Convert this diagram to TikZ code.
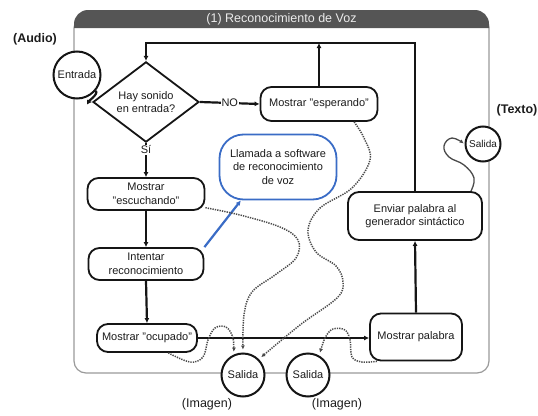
\documentclass[tikz,border=0pt]{standalone}
\usepackage{fontspec}
\setmainfont{Liberation Sans}
\usetikzlibrary{arrows.meta,shapes.geometric}

\definecolor{ink}{HTML}{151515}
\definecolor{txt}{HTML}{1C1C1C}
\definecolor{frameclr}{HTML}{9A9A9A}
\definecolor{hdr}{HTML}{555555}
\definecolor{callblue}{HTML}{3A6CC6}
\definecolor{dotclr}{HTML}{4A4A4A}

\tikzset{
  boxtxt/.style={font=\fontsize{11}{13.5}\selectfont, text=txt, align=center},
  stepbox/.style={boxtxt, draw=ink, line width=1.8pt, fill=white, rounded corners=11pt,
                  inner sep=0pt},
  callbox/.style={boxtxt, draw=callblue, line width=1.8pt, fill=white, rounded corners=24pt,
                  inner sep=0pt},
  decision/.style={boxtxt, draw=ink, line width=1.8pt, fill=white, diamond, inner sep=0pt},
  port/.style={boxtxt, circle, draw=ink, line width=2pt, fill=white, inner sep=0pt},
  flow/.style={draw=ink, line width=2.2pt, -{Latex[length=5pt,width=5pt]}},
  callflow/.style={draw=callblue, line width=2.2pt, -{Latex[length=5pt,width=5pt]}},
  dataflow/.style={draw=dotclr, line width=1.5pt, dash pattern=on 1.3pt off 1.1pt,
                   -{Latex[length=4pt,width=4pt]}, shorten >=3pt},
  textflow/.style={draw=dotclr, line width=1.3pt, -{Latex[length=4pt,width=4pt]}, shorten >=1pt},
  caption/.style={font=\fontsize{12.5}{14}\selectfont, text=txt},
}

\begin{document}
\begin{tikzpicture}[x=1pt, y=-1pt]
  \useasboundingbox (0,0) rectangle (538,415);

  % module frame with its title band
  \draw[frameclr, line width=1.2pt, rounded corners=12pt] (74,16) rectangle (489,373);
  \fill[hdr] (74,28) [rounded corners=14pt] -- (74,10) -- (489,10) [sharp corners] -- (489,28) -- cycle;
  \node[font=\fontsize{12.5}{14}\selectfont, text=white!92!black] (title) at (281.5,19) {(1) Reconocimiento de Voz};

  % steps
  \node[port, minimum size=47pt] (entrada) at (77,75) {Entrada};
  \node[decision, minimum width=106pt, minimum height=77pt] (dia) at (146,102) {Hay sonido\\en entrada?};
  \node[stepbox, minimum width=117pt, minimum height=34pt] (esperando) at (319,104) {Mostrar "esperando"};
  \node[stepbox, minimum width=117pt, minimum height=32pt] (escuchando) at (146,194) {Mostrar\\"escuchando"};
  \node[stepbox, minimum width=115pt, minimum height=32pt] (intentar) at (146,264) {Intentar\\reconocimiento};
  \node[stepbox, minimum width=100pt, minimum height=28pt] (ocupado) at (147,338) {Mostrar "ocupado"};
  \node[stepbox, minimum width=92pt, minimum height=47pt] (palabra) at (416,337) {Mostrar palabra};
  \node[stepbox, minimum width=134pt, minimum height=48pt] (enviar) at (415,216) {Enviar palabra al\\generador sintáctico};
  \node[callbox, minimum width=117pt, minimum height=65pt] (llamada) at (278,167) {Llamada a software\\de reconocimiento\\de voz};

  % outputs
  \node[port, minimum size=35pt, font=\fontsize{10}{12}\selectfont] (salidaT) at (483,144) {Salida};
  \node[port, minimum size=43pt] (salida1) at (243,375) {Salida};
  \node[port, minimum size=43pt] (salida2) at (308,375) {Salida};

  % port captions
  \node[caption, font=\fontsize{12.5}{14}\selectfont\bfseries] (capA) at (35,39) {(Audio)};
  \node[caption, font=\fontsize{12.5}{14}\selectfont\bfseries] (capT) at (517,110) {(Texto)};
  \node[caption] (capI1) at (207,404) {(Imagen)};
  \node[caption] (capI2) at (337,404) {(Imagen)};

  % control flow
  \coordinate (topL) at (146,43);
  \coordinate (join) at (319,43);
  \draw[flow] (entrada.-40) to[out=-45, in=180] (dia.west);
  \draw[flow] (enviar.north) |- (topL) -- (dia.north);
  \draw[flow] (esperando.north) -- (join);
  \draw[flow] (dia.east) -- node[boxtxt, fill=white, inner sep=1pt] (no) {NO} (esperando.west);
  \draw[flow] (dia.south) -- node[boxtxt, fill=white, inner sep=1pt, pos=0.2] (si) {Sí} (escuchando.north);
  \draw[flow] (escuchando.south) -- (intentar.north);
  \draw[flow] (intentar.south) -- (ocupado.north);
  \draw[flow] (ocupado.east) -- (ocupado.east -| palabra.west);
  \draw[flow] (palabra.north) -- (enviar.south);
  \draw[callflow] (intentar.north east) -- (llamada.-138);

  % text output
  \draw[textflow] plot[smooth, tension=0.7] coordinates
    {(enviar.24) (474,178) (464,165) (449,157) (444,146) (452,138) (salidaT.west)};

  % image outputs
  \draw[dataflow] plot[smooth, tension=0.6] coordinates
    {(esperando.-27) (364,138) (370,160) (352,188) (320,208) (308,230) (316,252)
     (336,266) (343,282) (337,298) (300,325) (salida1.45)};
  \draw[dataflow] plot[smooth, tension=0.6] coordinates
    {(escuchando.-13) (240,215) (280,227) (298,240) (296,258) (275,275) (252,292)
     (244,315) (salida1.north)};
  \draw[dataflow] plot[smooth, tension=0.6] coordinates
    {(ocupado.-35) (190,362) (203,357) (208,340) (215,328) (226,327) (233,338) (salida1.115)};
  \draw[dataflow] plot[smooth, tension=0.6] coordinates
    {(palabra.-148) (362,362) (352,357) (350,340) (345,330) (333,329) (325,338) (salida2.60)};
\end{tikzpicture}
\end{document}
